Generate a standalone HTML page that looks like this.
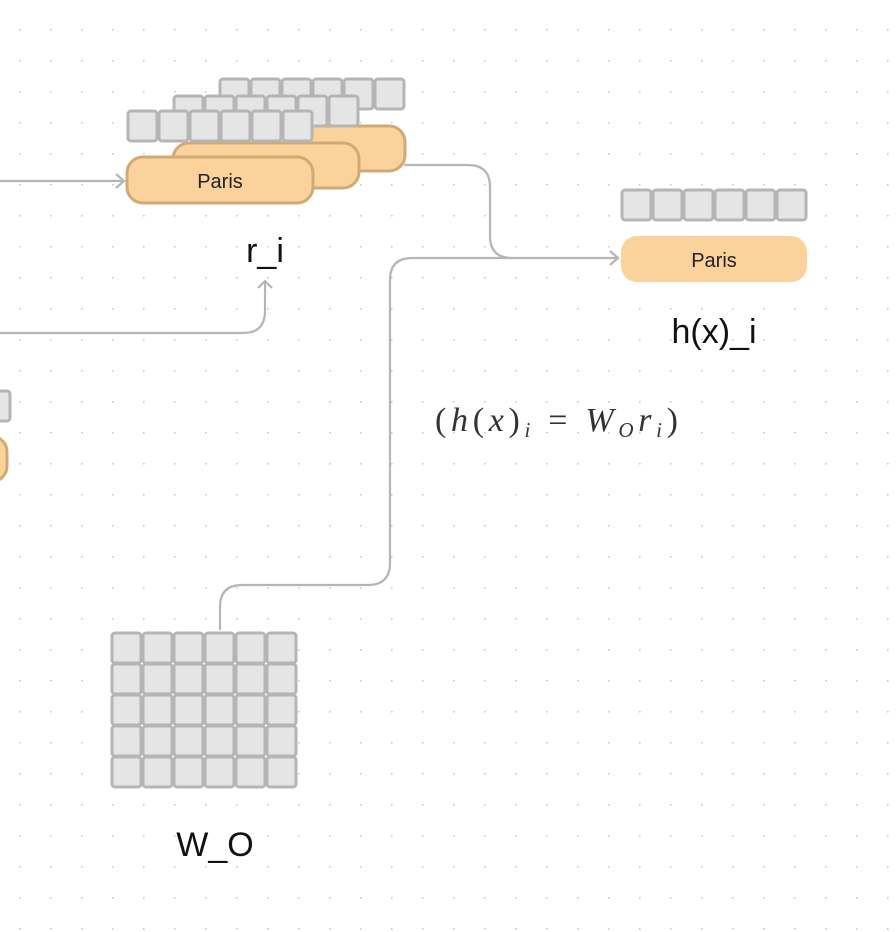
<!DOCTYPE html>
<html><head><meta charset="utf-8"><style>
html,body{margin:0;padding:0;background:#fff;}
svg{display:block}
</style></head><body>
<svg width="896" height="932" viewBox="0 0 896 932" xmlns="http://www.w3.org/2000/svg">
<defs>
<pattern id="dots" x="19" y="29" width="31" height="31" patternUnits="userSpaceOnUse">
<circle cx="0.8" cy="0.8" r="0.9" fill="#c8c8c8"/>
</pattern>
<rect id="c" width="29" height="30" rx="3" fill="#e5e5e5" stroke="#b5b5b5" stroke-width="3"/>
<g id="row">
<use href="#c" x="0"/><use href="#c" x="31"/><use href="#c" x="62"/><use href="#c" x="93"/><use href="#c" x="124"/><use href="#c" x="155"/>
</g>
</defs>
<rect x="-20" y="-20" width="940" height="980" fill="url(#dots)"/>

<g fill="none" stroke="#b5b5b5" stroke-width="2.2">
<path d="M0 181 H124"/>
<path d="M116 174 L124 181 L116 188"/>
<path d="M0 333 H243 Q265 333 265 311 V281"/>
<path d="M258 288 L265 281 L272 288"/>
<path d="M404 165 H468 Q490 165 490 187 V236 Q490 258 512 258 H618"/>
<path d="M610 251 L618 258 L610 265"/>
<path d="M220 630 V607 Q220 585 242 585 H368 Q390 585 390 563 V280 Q390 258 412 258 H512"/>
</g>

<!-- left partial -->
<use href="#c" x="-19" y="391"/>
<rect x="-40" y="436" width="47" height="46" rx="16" fill="#fbd29b" stroke="#d2a874" stroke-width="3"/>

<!-- back stack -->
<use href="#row" x="220" y="79"/>
<rect x="219" y="126" width="186" height="45" rx="16" fill="#fbd29b" stroke="#d2a874" stroke-width="3"/>
<use href="#row" x="174" y="96"/>
<rect x="173" y="143" width="186" height="45" rx="16" fill="#fbd29b" stroke="#d2a874" stroke-width="3"/>
<use href="#row" x="128" y="111"/>
<rect x="127" y="157" width="186" height="46" rx="16" fill="#fbd29b" stroke="#d2a874" stroke-width="3"/>
<text x="220" y="188" font-family="Liberation Sans, sans-serif" font-size="20" text-anchor="middle" fill="#222">Paris</text>

<text x="265" y="262" font-family="Liberation Sans, sans-serif" font-size="34" text-anchor="middle" fill="#111">r_i</text>

<!-- h(x)_i -->
<use href="#row" x="622" y="190"/>
<rect x="621" y="236" width="186" height="46" rx="16" fill="#fbd29b"/>
<text x="714" y="267" font-family="Liberation Sans, sans-serif" font-size="20" text-anchor="middle" fill="#222">Paris</text>
<text x="714" y="343" font-family="Liberation Sans, sans-serif" font-size="34" text-anchor="middle" fill="#111">h(x)_i</text>

<!-- formula -->
<text x="435" y="431" font-family="Liberation Serif, serif" font-size="34" font-style="italic" fill="#333" textLength="243" lengthAdjust="spacing"><tspan font-style="normal">(</tspan>h<tspan font-style="normal">(</tspan>x<tspan font-style="normal">)</tspan><tspan font-size="21" dy="6">i</tspan><tspan dy="-6" font-style="normal"> = </tspan>W<tspan font-size="21" dy="6">O</tspan><tspan dy="-6">r</tspan><tspan font-size="21" dy="6">i</tspan><tspan dy="-6" font-style="normal">)</tspan></text>

<!-- W_O -->
<use href="#row" x="112" y="633"/>
<use href="#row" x="112" y="664"/>
<use href="#row" x="112" y="695"/>
<use href="#row" x="112" y="726"/>
<use href="#row" x="112" y="757"/>
<text x="215" y="856" font-family="Liberation Sans, sans-serif" font-size="34" text-anchor="middle" fill="#111">W_O</text>
</svg>
</body></html>
